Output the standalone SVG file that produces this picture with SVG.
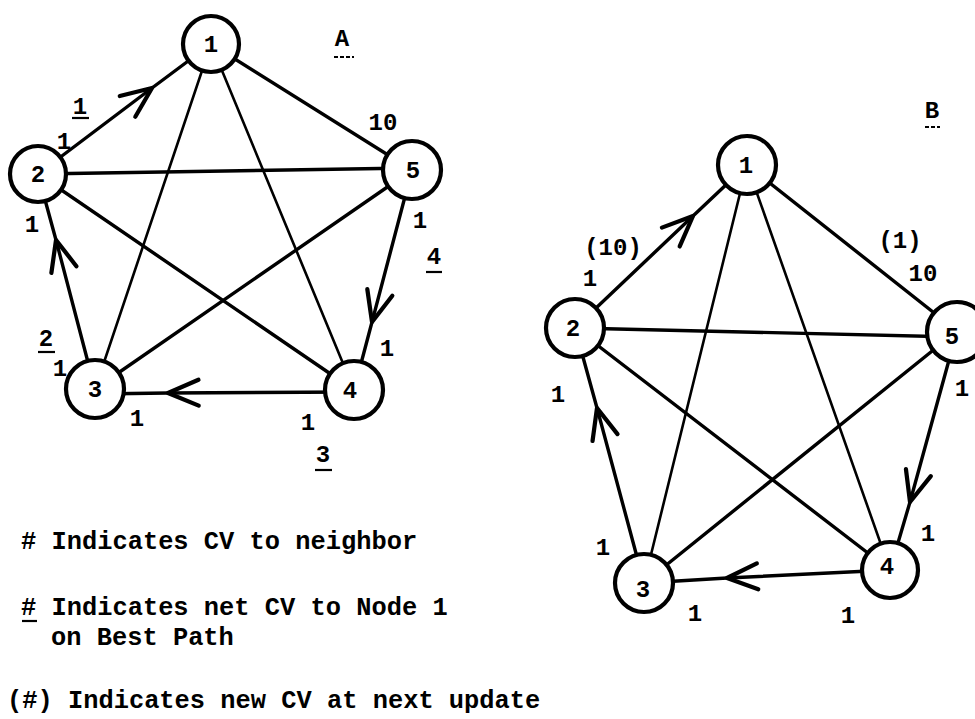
<svg xmlns="http://www.w3.org/2000/svg" width="975" height="719" viewBox="0 0 975 719">
<style>
  .bg { fill: #ffffff; }
  .edge { stroke: #000; stroke-width: 3.4; fill: none; stroke-linecap: round; }
  .thin { stroke-width: 2.6; }
  .node circle { fill: #fff; stroke: #000; stroke-width: 4.2; }
  .node text, .lbl { font-family: "Liberation Mono", "Courier New", monospace; font-size: 24px; font-weight: bold; fill: #000; text-anchor: middle; }
  .ul { stroke: #000; stroke-width: 2.2; }
  .dash { stroke-dasharray: 4 2; }
  .legend { font-family: "Liberation Mono", "Courier New", monospace; font-size: 25.4px; font-weight: bold; fill: #000; }
</style>
<defs>
  <marker id="vee" markerUnits="userSpaceOnUse" markerWidth="40" markerHeight="40" viewBox="-30 -15 34 30" refX="0" refY="0" orient="auto">
    <path d="M-26,-11 L0,0 L-26,11" fill="none" stroke="#000" stroke-width="3.6" stroke-linecap="round" stroke-linejoin="round"/>
  </marker>
</defs>
<rect class="bg" x="0" y="0" width="975" height="719"/>

<!-- Diagram A connectors -->
<g id="connectors-A">
  <polyline class="edge" points="38,174 152,88 211,44" marker-mid="url(#vee)"/>
  <line class="edge" x1="211" y1="44" x2="412" y2="170"/>
  <line class="edge" x1="38" y1="174" x2="412" y2="168"/>
  <line class="edge thin" x1="211" y1="44" x2="95" y2="389"/>
  <line class="edge thin" x1="211" y1="44" x2="354" y2="390"/>
  <line class="edge" x1="38" y1="174" x2="354" y2="390"/>
  <line class="edge" x1="412" y1="170" x2="95" y2="389"/>
  <polyline class="edge" points="95,389 56,240 38,174" marker-mid="url(#vee)"/>
  <polyline class="edge" points="412,170 372,322 354,390" marker-mid="url(#vee)"/>
  <polyline class="edge" points="354,392 168,393 95,394" marker-mid="url(#vee)"/>
</g>

<!-- Diagram B connectors -->
<g id="connectors-B">
  <polyline class="edge" points="575,328 693,216 747,165" marker-mid="url(#vee)"/>
  <line class="edge" x1="747" y1="165" x2="957" y2="331"/>
  <line class="edge" x1="575" y1="328" x2="957" y2="337"/>
  <line class="edge thin" x1="747" y1="165" x2="644" y2="583"/>
  <line class="edge thin" x1="747" y1="165" x2="890" y2="570"/>
  <line class="edge" x1="575" y1="328" x2="890" y2="570"/>
  <line class="edge" x1="957" y1="331" x2="644" y2="583"/>
  <polyline class="edge" points="644,583 597,408 575,328" marker-mid="url(#vee)"/>
  <polyline class="edge" points="957,331 910,502 890,570" marker-mid="url(#vee)"/>
  <polyline class="edge" points="890,570 727,578 644,583" marker-mid="url(#vee)"/>
</g>

<!-- Diagram A nodes -->
<g id="A-node1" class="node"><circle cx="211" cy="44" r="28"/><text x="211" y="44" dy="0.35em">1</text></g>
<g id="A-node2" class="node"><circle cx="38" cy="174" r="28"/><text x="38" y="174" dy="0.35em">2</text></g>
<g id="A-node5" class="node"><circle cx="412" cy="170" r="29"/><text x="413" y="170" dy="0.35em">5</text></g>
<g id="A-node3" class="node"><circle cx="95" cy="389" r="29"/><text x="95" y="389" dy="0.35em">3</text></g>
<g id="A-node4" class="node"><circle cx="354" cy="390" r="29"/><text x="350" y="390" dy="0.35em">4</text></g>

<!-- Diagram B nodes -->
<g id="B-node1" class="node"><circle cx="747" cy="165" r="29"/><text x="746" y="165" dy="0.35em">1</text></g>
<g id="B-node2" class="node"><circle cx="575" cy="328" r="29"/><text x="573" y="328" dy="0.35em">2</text></g>
<g id="B-node5" class="node"><circle cx="957" cy="332" r="30"/><text x="952" y="336" dy="0.35em">5</text></g>
<g id="B-node3" class="node"><circle cx="644" cy="583" r="29"/><text x="643" y="589" dy="0.35em">3</text></g>
<g id="B-node4" class="node"><circle cx="890" cy="570" r="28"/><text x="887" y="566" dy="0.35em">4</text></g>

<!-- Diagram A labels -->
<g id="labels-A">
  <text class="lbl" x="342" y="38" dy="0.35em">A</text>
  <line class="ul dash" x1="334" y1="57" x2="354" y2="57"/>
  <text class="lbl" x="80" y="106" dy="0.35em">1</text>
  <line class="ul" x1="72" y1="118" x2="89" y2="118"/>
  <text class="lbl" x="64" y="141" dy="0.35em">1</text>
  <text class="lbl" x="383" y="122" dy="0.35em">10</text>
  <text class="lbl" x="32" y="224" dy="0.35em">1</text>
  <text class="lbl" x="420" y="220" dy="0.35em">1</text>
  <text class="lbl" x="434" y="256" dy="0.35em">4</text>
  <line class="ul" x1="426" y1="272" x2="442" y2="272"/>
  <text class="lbl" x="46" y="338" dy="0.35em">2</text>
  <line class="ul" x1="38" y1="352" x2="55" y2="352"/>
  <text class="lbl" x="60" y="368" dy="0.35em">1</text>
  <text class="lbl" x="137" y="418" dy="0.35em">1</text>
  <text class="lbl" x="308" y="422" dy="0.35em">1</text>
  <text class="lbl" x="387" y="348" dy="0.35em">1</text>
  <text class="lbl" x="323" y="454" dy="0.35em">3</text>
  <line class="ul" x1="315" y1="470" x2="332" y2="470"/>
</g>

<!-- Diagram B labels -->
<g id="labels-B">
  <text class="lbl" x="932" y="110" dy="0.35em">B</text>
  <line class="ul dash" x1="925" y1="127" x2="940" y2="127"/>
  <text class="lbl" x="613" y="247" dy="0.35em">(10)</text>
  <text class="lbl" x="590" y="278" dy="0.35em">1</text>
  <text class="lbl" x="900" y="240" dy="0.35em">(1)</text>
  <text class="lbl" x="923" y="273" dy="0.35em">10</text>
  <text class="lbl" x="962" y="388" dy="0.35em">1</text>
  <text class="lbl" x="558" y="394" dy="0.35em">1</text>
  <text class="lbl" x="603" y="547" dy="0.35em">1</text>
  <text class="lbl" x="695" y="613" dy="0.35em">1</text>
  <text class="lbl" x="848" y="615" dy="0.35em">1</text>
  <text class="lbl" x="928" y="533" dy="0.35em">1</text>
</g>

<!-- Legend -->
<g id="legend">
  <text class="legend" x="21" y="549"># Indicates CV to neighbor</text>
  <text class="legend" x="21" y="615"># Indicates net CV to Node 1</text>
  <line class="ul" x1="22" y1="621" x2="37" y2="621"/>
  <text class="legend" x="51" y="645">on Best Path</text>
  <text class="legend" x="7" y="708">(#) Indicates new CV at next update</text>
</g>
</svg>
